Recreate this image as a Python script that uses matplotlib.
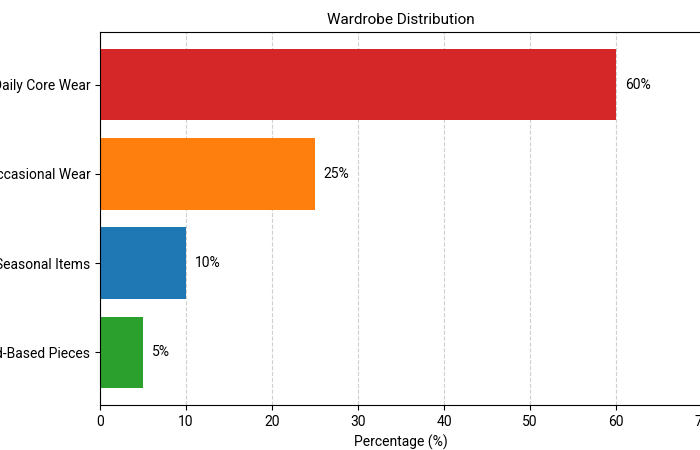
import matplotlib
matplotlib.use("Agg")
import matplotlib.pyplot as plt

categories = ["Daily Core Wear", "Occasional Wear", "Seasonal Items", "Trend-Based Pieces"]
values = [60, 25, 10, 5]
colors = ["#d62728", "#ff7f0e", "#1f77b4", "#2ca02c"]

plt.rcParams['font.family'] = ['Roboto', 'DejaVu Sans']
fig = plt.figure(figsize=(7, 4.5), dpi=100)
ax = fig.add_axes([0.143, 0.1, 0.86, 0.829])
ax.barh(categories, values, color=colors, height=0.8)
ax.invert_yaxis()
ax.set_xlim(0, 70)
ax.set_xlabel("Percentage (%)", fontsize=10)
ax.set_title("Wardrobe Distribution", fontsize=11)
ax.xaxis.grid(True, linestyle="--", alpha=0.6)
ax.set_axisbelow(True)
ax.tick_params(labelsize=10)
for i, v in enumerate(values):
    ax.text(v + 1, i, f"{v}%", va="center", fontsize=10)
fig.savefig("out.png", dpi=100)
